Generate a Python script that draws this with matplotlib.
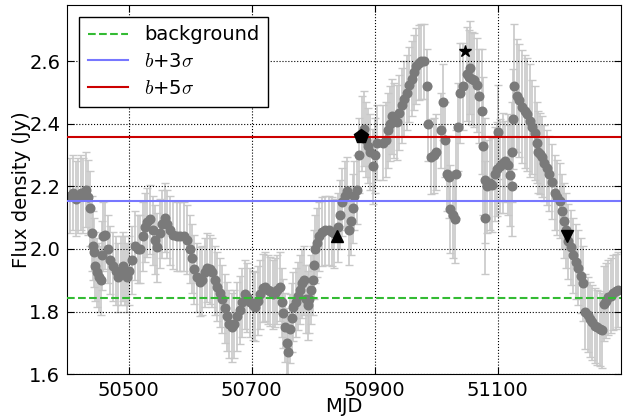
import matplotlib
matplotlib.use("Agg")
import matplotlib.pyplot as plt
import numpy as np

plt.rcParams['mathtext.fontset'] = 'cm'

# light curve (MJD, flux density Jy, error Jy)
mjd = [50405, 50410, 50414, 50418, 50422, 50426, 50430, 50434, 50437, 50440,
       50442, 50444, 50446, 50449, 50452, 50455, 50456, 50459, 50462, 50466,
       50470, 50475, 50479, 50483, 50487, 50491, 50494, 50497, 50501, 50506,
       50510, 50515, 50519, 50524, 50527, 50530, 50535, 50539, 50543, 50546,
       50551, 50555, 50559, 50563, 50567, 50572, 50578, 50584, 50590, 50595,
       50599, 50603, 50607, 50611, 50616, 50620, 50624, 50628, 50632, 50636,
       50640, 50644, 50648, 50652, 50656, 50660, 50664, 50668, 50672, 50676,
       50681, 50685, 50689, 50693, 50698, 50702, 50706, 50710, 50714, 50718,
       50722, 50726, 50730, 50734, 50738, 50742, 50746, 50749, 50751, 50754,
       50757, 50759, 50762, 50765, 50768, 50772, 50776, 50779, 50782, 50785,
       50788, 50791, 50794, 50797, 50799, 50801, 50803, 50806, 50810, 50815,
       50820, 50825, 50830, 50834, 50840, 50843, 50847, 50851, 50855, 50858,
       50861, 50864, 50867, 50871, 50875, 50880, 50882, 50886, 50889, 50893,
       50897, 50901, 50904, 50914, 50918, 50921, 50925, 50928, 50932, 50936,
       50940, 50944, 50948, 50952, 50956, 50960, 50964, 50968, 50972, 50976,
       50981, 50985, 50987, 50992, 50996, 51000, 51008, 51011, 51014, 51018,
       51021, 51023, 51027, 51030, 51033, 51036, 51039, 51043, 51050, 51053,
       51055, 51058, 51062, 51066, 51070, 51074, 51076, 51079, 51080, 51083,
       51087, 51091, 51095, 51099, 51101, 51104, 51108, 51112, 51116, 51120,
       51123, 51124, 51125, 51127, 51131, 51135, 51140, 51144, 51148, 51152,
       51156, 51160, 51164, 51166, 51169, 51172, 51176, 51180, 51184, 51189,
       51193, 51197, 51201, 51205, 51208, 51211, 51215, 51219, 51223, 51227,
       51231, 51235, 51239, 51242, 51246, 51250, 51254, 51258, 51262, 51266,
       51270, 51272, 51276, 51280, 51284, 51288, 51292, 51296]
flux = [2.17, 2.18, 2.16, 2.17, 2.18, 2.17, 2.19, 2.165, 2.13, 2.05,
        2.01, 1.99, 1.945, 1.925, 1.91, 1.90, 1.98, 2.04, 2.045, 2.00,
        1.965, 1.945, 1.93, 1.91, 1.93, 1.945, 1.93, 1.91, 1.93, 1.965,
        2.01, 2.00, 2.00, 2.04, 2.07, 2.085, 2.095, 2.06, 2.03, 2.005,
        2.05, 2.08, 2.10, 2.08, 2.06, 2.045, 2.04, 2.04, 2.04, 2.03,
        2.00, 1.97, 1.935, 1.91, 1.895, 1.90, 1.925, 1.94, 1.935, 1.925,
        1.90, 1.88, 1.86, 1.84, 1.81, 1.785, 1.76, 1.75, 1.76, 1.785,
        1.805, 1.83, 1.855, 1.845, 1.83, 1.82, 1.815, 1.835, 1.855, 1.875,
        1.88, 1.87, 1.865, 1.855, 1.86, 1.87, 1.88, 1.83, 1.795, 1.75,
        1.70, 1.67, 1.745, 1.78, 1.815, 1.83, 1.85, 1.87, 1.89, 1.90,
        1.84, 1.82, 1.84, 1.87, 1.90, 1.95, 2.00, 2.02, 2.04, 2.055,
        2.06, 2.06, 2.055, 2.05, 2.07, 2.11, 2.15, 2.17, 2.185, 2.06,
        2.09, 2.13, 2.17, 2.19, 2.30, 2.37, 2.385, 2.35, 2.33, 2.31,
        2.265, 2.30, 2.34, 2.34, 2.35, 2.38, 2.40, 2.425, 2.41, 2.405,
        2.435, 2.46, 2.48, 2.50, 2.525, 2.545, 2.565, 2.585, 2.595, 2.60,
        2.60, 2.52, 2.40, 2.295, 2.30, 2.31, 2.38, 2.47, 2.35, 2.24,
        2.23, 2.127, 2.11, 2.095, 2.24, 2.39, 2.50, 2.52, 2.56, 2.55,
        2.58, 2.545, 2.54, 2.525, 2.49, 2.44, 2.33, 2.22, 2.10, 2.20,
        2.21, 2.205, 2.24, 2.255, 2.374, 2.265, 2.275, 2.28, 2.27, 2.235,
        2.20, 2.31, 2.415, 2.52, 2.49, 2.475, 2.455, 2.44, 2.43, 2.41,
        2.39, 2.37, 2.34, 2.31, 2.305, 2.295, 2.275, 2.26, 2.24, 2.215,
        2.18, 2.165, 2.155, 2.12, 2.09, 2.06, 2.025, 2.005, 1.98, 1.96,
        1.94, 1.915, 1.89, 1.80, 1.79, 1.775, 1.765, 1.755, 1.75, 1.745,
        1.74, 1.825, 1.835, 1.845, 1.85, 1.86, 1.865, 1.87]
err = [0.12] * 10 + [0.11] * 114 + [0.12] * 36 + \
      [0.13, 0.14, 0.14, 0.14, 0.14, 0.14, 0.16, 0.14, 0.15, 0.15,
       0.15, 0.15, 0.15, 0.15, 0.15, 0.2, 0.22, 0.2, 0.18, 0.15,
       0.15, 0.15, 0.15, 0.15, 0.15, 0.15, 0.16, 0.13, 0.16, 0.16,
       0.16, 0.16, 0.16, 0.2, 0.18, 0.18, 0.18, 0.18, 0.18, 0.18,
       0.15, 0.15] + [0.13] * 4 + [0.12] * 46
err = err[:len(mjd)] + [0.12] * (len(mjd) - len(err))

# special epochs
up_mjd, up_flux = [50838], [2.04]
pent_mjd, pent_flux = [50878], [2.362]
star_mjd, star_flux = [51047], [2.634]
down_mjd, down_flux = [51212], [2.04]

background = 1.842
sigma = 0.1035

fig = plt.figure(figsize=(6.27, 4.18), dpi=100)
ax = fig.add_axes([0.107, 0.105, 0.883, 0.883])

ax.errorbar(mjd, flux, yerr=err, fmt='none', ecolor='#c8c8c8', elinewidth=1.2,
            capsize=2.8, capthick=1, zorder=1)
ax.plot(mjd, flux, 'o', color='#7a7a7a', ms=6.2, mec='#7a7a7a', zorder=2)

ax.axhline(background, color='#33bb33', ls='--', lw=1.5, label='background', zorder=3)
ax.axhline(background + 3 * sigma, color='#7777ff', lw=1.5, label=r'$b$+3$\sigma$', zorder=3)
ax.axhline(background + 5 * sigma, color='#cc0000', lw=1.5, label=r'$b$+5$\sigma$', zorder=3)

ax.plot(up_mjd, up_flux, '^', color='black', ms=8, zorder=4)
ax.plot(pent_mjd, pent_flux, 'p', color='black', ms=10, zorder=4)
ax.plot(star_mjd, star_flux, '*', color='black', ms=9, zorder=4)
ax.plot(down_mjd, down_flux, 'v', color='black', ms=8, zorder=4)

ax.set_xlim(50400, 51300)
ax.set_ylim(1.6, 2.78)
ax.set_xticks([50500, 50700, 50900, 51100])
ax.set_yticks([1.6, 1.8, 2.0, 2.2, 2.4, 2.6])
ax.grid(True, color='black', ls=':', lw=0.8)
ax.tick_params(direction='in', top=True, right=True, labelsize=14, length=5, pad=5)
ax.set_xlabel('MJD', fontsize=14, labelpad=-2)
ax.set_ylabel('Flux density (Jy)', fontsize=14, labelpad=-1)

leg = ax.legend(loc='upper left', fontsize=14, fancybox=False, framealpha=1,
                edgecolor='black', borderpad=0.45, handlelength=2.1,
                labelspacing=0.4, borderaxespad=0.6)
leg.get_frame().set_linewidth(1)

fig.savefig('out.png', dpi=100)
